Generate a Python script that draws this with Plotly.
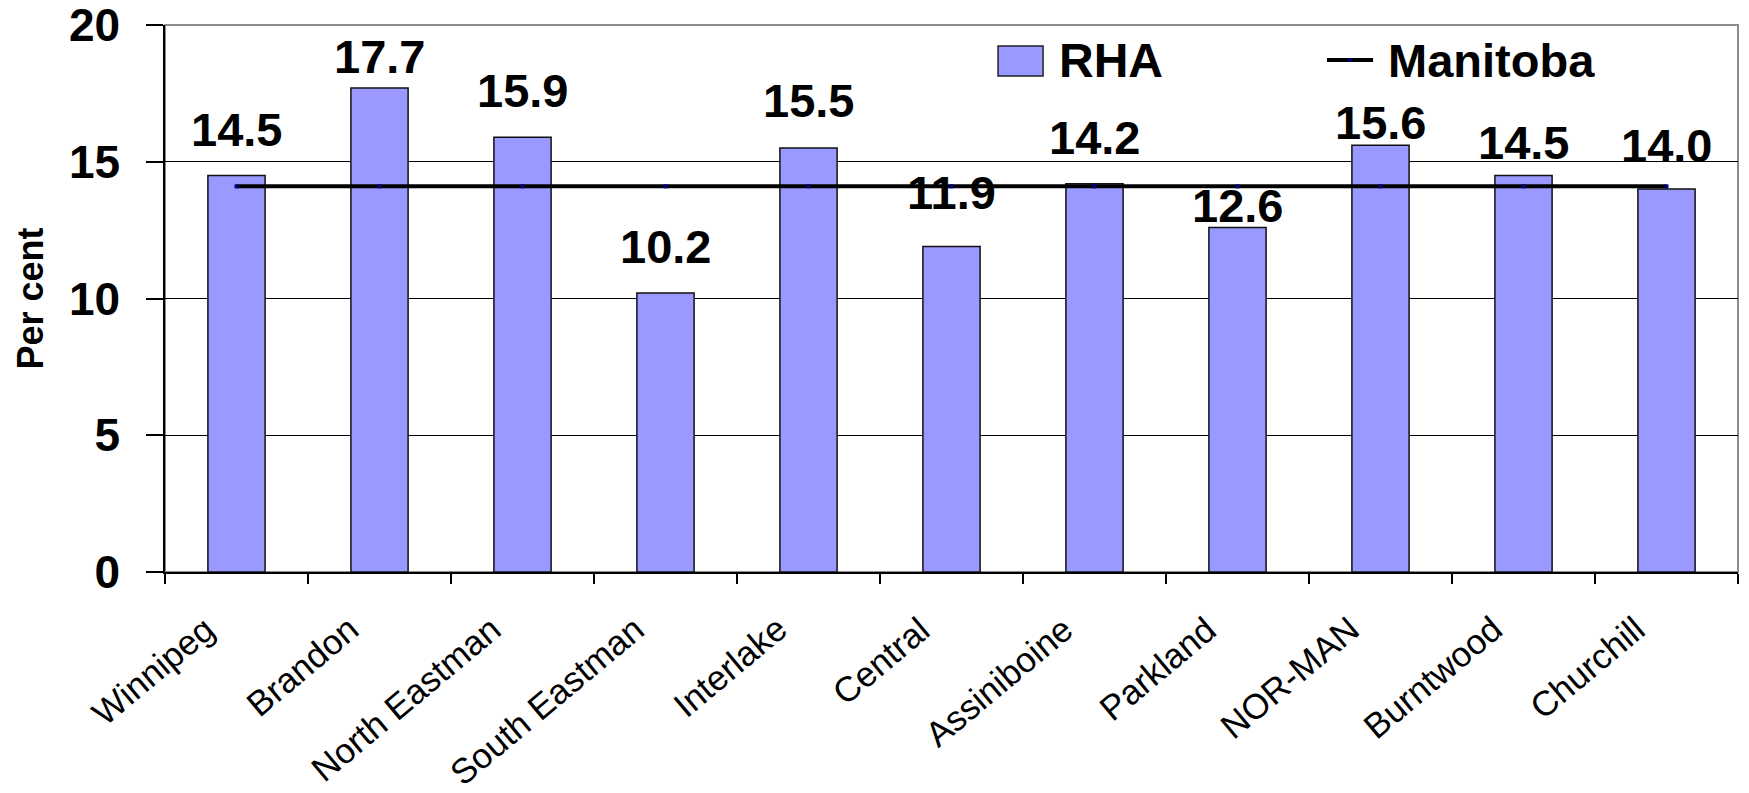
import plotly.graph_objects as go

# Regional Health Authorities and their rates (per cent)
regions = ["Winnipeg", "Brandon", "North Eastman", "South Eastman", "Interlake",
           "Central", "Assiniboine", "Parkland", "NOR-MAN", "Burntwood", "Churchill"]
rha_values = [14.5, 17.7, 15.9, 10.2, 15.5, 11.9, 14.2, 12.6, 15.6, 14.5, 14.0]
manitoba_avg = 14.1
y_ticks = [0, 5, 10, 15, 20]

# vertical offset (px) of each value label above its bar
label_gap_px = [29, 15, 30, 30, 31, 38, 30, 5, 6, 16, 27]

BAR_COLOR = "#9999FF"
LINE_COLOR = "#000000"
MARKER_COLOR = "#000080"
FONT = "Liberation Sans, Arial, sans-serif"

fig = go.Figure()

fig.add_trace(go.Bar(
    x=regions, y=rha_values, name="RHA", width=0.4,
    marker=dict(color=BAR_COLOR, line=dict(color="#111111", width=1.5)),
    showlegend=False,
))

fig.add_trace(go.Scatter(
    x=regions, y=[manitoba_avg] * len(regions), name="Manitoba",
    mode="lines+markers",
    line=dict(color=LINE_COLOR, width=4),
    marker=dict(symbol="square", size=4, color=MARKER_COLOR),
    showlegend=False,
))

# value labels above each bar
for r, v, gap in zip(regions, rha_values, label_gap_px):
    fig.add_annotation(
        x=r, y=v, xref="x", yref="y", text=f"{v:.1f}", showarrow=False,
        yanchor="bottom", yshift=gap - 12,
        font=dict(family=FONT, size=47, color="black", weight="bold"),
    )

# slanted category labels under the axis
for r in regions:
    fig.add_annotation(
        x=r, y=0, xref="x", yref="y", text=r, showarrow=False,
        xanchor="right", yanchor="top", xshift=-12, yshift=-34,
        textangle=-40,
        font=dict(family=FONT, size=35, color="black"),
    )

# plot-area frame (top/right edges in grey)
fig.add_shape(type="rect", xref="paper", yref="paper", x0=0, x1=1, y0=0, y1=1,
              line=dict(color="#8c8c8c", width=2), layer="below")

# legend keys
fig.add_shape(type="rect", xref="paper", yref="paper",
              x0=0.5296, x1=0.5582, y0=0.9068, y1=0.9616,
              fillcolor=BAR_COLOR, line=dict(color="#222222", width=1.5))
fig.add_annotation(xref="paper", yref="paper", x=0.567, y=0.936, text="RHA",
                   showarrow=False, xanchor="left", yanchor="middle",
                   font=dict(family=FONT, size=48, color="black", weight="bold"))
fig.add_shape(type="line", xref="paper", yref="paper",
              x0=0.7387, x1=0.7680, y0=0.936, y1=0.936,
              line=dict(color=LINE_COLOR, width=4))
fig.add_shape(type="rect", xref="paper", yref="paper",
              x0=0.7520, x1=0.7548, y0=0.933, y1=0.939,
              fillcolor=MARKER_COLOR, line=dict(width=0))
fig.add_annotation(xref="paper", yref="paper", x=0.7765, y=0.936, text="Manitoba",
                   showarrow=False, xanchor="left", yanchor="middle",
                   font=dict(family=FONT, size=47, color="black", weight="bold"))

fig.update_layout(
    width=1749, height=793,
    margin=dict(l=165, r=11, t=25, b=221),
    paper_bgcolor="white", plot_bgcolor="white",
    font=dict(family=FONT, color="black"),
    bargap=0.6,
    xaxis=dict(
        type="category", categoryorder="array", categoryarray=regions,
        range=[-0.5, len(regions) - 0.5], automargin=False,
        tickson="boundaries", ticks="outside", ticklen=10, tickwidth=1.5,
        tickcolor="black", showline=True, linecolor="black", linewidth=1.5,
        showgrid=False, showticklabels=False,
    ),
    xaxis2=dict(
        overlaying="x", anchor="y", range=[-0.5, len(regions) - 0.5],
        tickmode="array", tickvals=[i - 0.5 for i in range(len(regions) + 1)],
        ticks="inside", ticklen=10, tickwidth=1.5, tickcolor="black",
        showticklabels=False, showgrid=False, showline=False, zeroline=False,
    ),
    yaxis=dict(
        range=[0, 20], tickmode="array", tickvals=y_ticks, automargin=False,
        ticks="outside", ticklen=17, tickwidth=1.5, tickcolor="black",
        showline=True, linecolor="black", linewidth=1.5,
        showgrid=True, gridcolor="black", gridwidth=1, zeroline=False,
        ticklabelstandoff=17, ticklabeloverflow="allow",
        tickfont=dict(family=FONT, size=46, color="black", weight="bold"),
        title=dict(text="Per cent", standoff=14,
                   font=dict(family=FONT, size=36, color="black", weight="bold")),
    ),
)

fig.write_html("out.html")
